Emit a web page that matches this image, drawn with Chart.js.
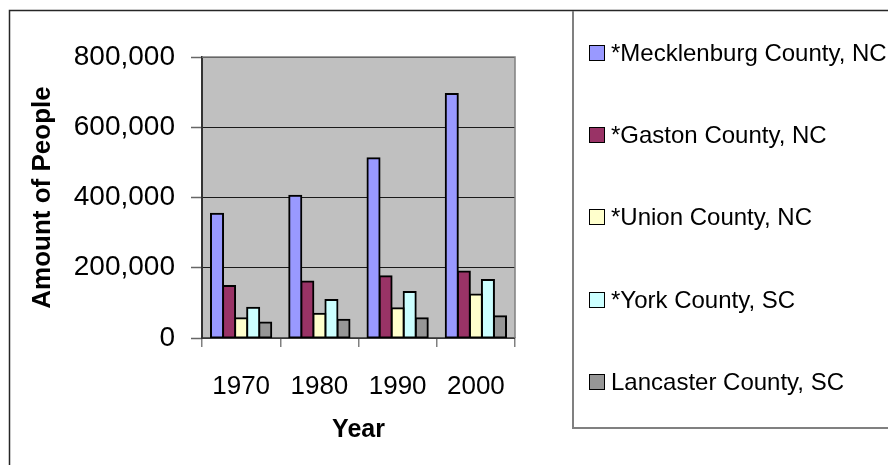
<!DOCTYPE html>
<html>
<head>
<meta charset="utf-8">
<script src="https://cdn.jsdelivr.net/npm/chart.js@4/dist/chart.umd.min.js"></script>
<style>
  html, body { margin: 0; padding: 0; background: #fff; }
  #wrap { position: relative; width: 888px; height: 465px; overflow: hidden; }
  #c { position: absolute; left: 0; top: 0; }
  #legend { position: absolute; left: 0; top: 0; width: 888px; height: 465px; pointer-events: none;
            font-family: "Liberation Sans", Arial, sans-serif; font-size: 24px; color: #000; }
  .item { position: absolute; left: 589px; height: 30px; display: flex; align-items: center; white-space: nowrap; }
  .sw { width: 14px; height: 14px; border: 1.5px solid #000; margin-right: 6px; flex: none; }
</style>
</head>
<body>
<div id="wrap">
  <canvas id="c" width="888" height="465"></canvas>
  <div id="legend"></div>
</div>
<script>
const years = ['1970', '1980', '1990', '2000'];
const seriesNames = ['*Mecklenburg County, NC', '*Gaston County, NC', '*Union County, NC', '*York County, SC', 'Lancaster County, SC'];
const mecklenburg = [354000, 405000, 512000, 695000];
const gaston = [148000, 161000, 176000, 189000];
const union = [56000, 69000, 85000, 124000];
const york = [86000, 108000, 131000, 165000];
const lancaster = [44000, 52000, 56000, 62000];
const seriesColors = ['#9999FF', '#993366', '#FFFFCC', '#CCFFFF', '#969696'];
const yTicks = [0, 200000, 400000, 600000, 800000];

const seriesValues = [mecklenburg, gaston, union, york, lancaster];

const frame = {
  id: 'frame',
  beforeDraw(chart) {
    const {ctx, chartArea: a} = chart;
    ctx.save();
    ctx.fillStyle = '#C0C0C0';
    ctx.fillRect(a.left, a.top, a.right - a.left, a.bottom - a.top);
    ctx.restore();
  },
  afterDraw(chart) {
    const {ctx, chartArea: a} = chart;
    ctx.save();
    // plot area border (top/right)
    ctx.strokeStyle = '#808080';
    ctx.lineWidth = 1.5;
    ctx.beginPath();
    ctx.moveTo(a.left, a.top);
    ctx.lineTo(a.right, a.top);
    ctx.lineTo(a.right, a.bottom);
    ctx.stroke();
    // outer chart border
    ctx.strokeStyle = '#262626';
    ctx.lineWidth = 1.5;
    ctx.strokeRect(9.5, 10.5, 1000, 1000);
    // legend frame
    ctx.strokeStyle = '#808080';
    ctx.lineWidth = 2;
    ctx.beginPath();
    ctx.moveTo(573, 11);
    ctx.lineTo(573, 428);
    ctx.lineTo(900, 428);
    ctx.stroke();
    ctx.restore();
  }
};

const chart = new Chart(document.getElementById('c'), {
  type: 'bar',
  data: {
    labels: years,
    datasets: seriesNames.map((name, i) => ({
      label: name,
      data: seriesValues[i],
      backgroundColor: seriesColors[i],
      borderColor: '#000',
      borderWidth: 2,
      inflateAmount: 1,
      borderSkipped: false,
      categoryPercentage: 0.77,
      barPercentage: 1.0
    }))
  },
  options: {
    responsive: false,
    animation: false,
    events: [],
    layout: { padding: { left: 0, top: 57, right: 373, bottom: 0 } },
    plugins: { legend: { display: false }, tooltip: { enabled: false } },
    scales: {
      x: {
        afterFit(s) { s.height = 127; },
        grid: { display: true, drawOnChartArea: false, offset: true, tickLength: 9, color: '#808080', lineWidth: 1.5 },
        border: { display: true, color: '#555', width: 1.5 },
        ticks: { color: '#000', padding: 24, font: { family: 'Liberation Sans', size: 26 } },
        title: { display: true, text: 'Year', color: '#000', padding: { top: 0, bottom: 20 },
                 font: { family: 'Liberation Sans', size: 25, weight: 'bold' } }
      },
      y: {
        min: 0, max: 800000,
        afterFit(s) { s.width = 202; },
        afterBuildTicks(s) { s.ticks = yTicks.map(v => ({ value: v })); },
        grid: { color: '#1a1a1a', lineWidth: 1, tickLength: 11, tickColor: '#666', tickWidth: 1.5 },
        border: { display: true, color: '#333', width: 2 },
        ticks: { color: '#000', padding: 16, font: { family: 'Liberation Sans', size: 28 },
                 callback: v => Number(v).toLocaleString('en-US') },
        title: { display: true, text: 'Amount of People', color: '#000', padding: { top: 27, bottom: 0 },
                 font: { family: 'Liberation Sans', size: 26, weight: 'bold' } }
      }
    }
  },
  plugins: [frame]
});

// legend built from the chart's datasets
const legendTops = [53, 135, 217, 300, 382];
const lg = document.getElementById('legend');
chart.data.datasets.forEach((ds, i) => {
  const it = document.createElement('div');
  it.className = 'item';
  it.style.top = (legendTops[i] - 15) + 'px';
  const sw = document.createElement('span');
  sw.className = 'sw';
  sw.style.background = ds.backgroundColor;
  const tx = document.createElement('span');
  tx.textContent = ds.label;
  it.appendChild(sw);
  it.appendChild(tx);
  lg.appendChild(it);
});
</script>
</body>
</html>
